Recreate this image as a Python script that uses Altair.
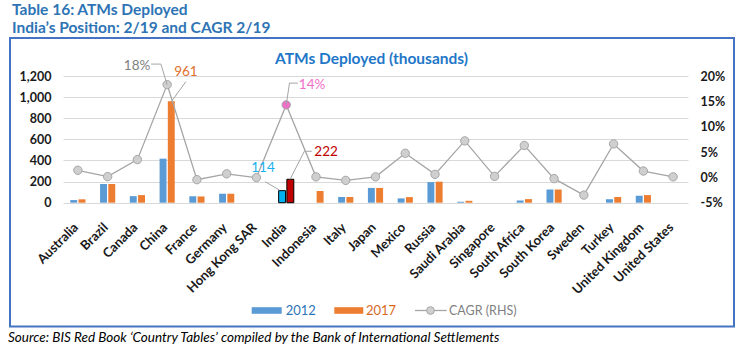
import altair as alt
import pandas as pd

# ---------------- data ----------------
countries = ["Australia", "Brazil", "Canada", "China", "France", "Germany",
             "Hong Kong SAR", "India", "Indonesia", "Italy", "Japan", "Mexico",
             "Russia", "Saudi Arabia", "Singapore", "South Africa", "South Korea",
             "Sweden", "Turkey", "United Kingdom", "United States"]
atm_2012 = [25, 177, 62, 417, 62, 85, None, 114, None, 54, 140, 41,
            195, 9, None, 21, 125, None, 33, 66, None]
atm_2017 = [32, 177, 72, 961, 59, 85, None, 222, 111, 54, 140, 53,
            199, 18, None, 34, 125, None, 54, 72, None]
cagr_pct = [1.4, 0.15, 3.5, 18.3, -0.45, 0.7, -0.05, 14.3, 0.1, -0.6, 0.1, 4.75,
            0.6, 7.2, 0.2, 6.3, -0.25, -3.5, 6.6, 1.25, 0.1]
years = ["2012", "2017"]
left_ticks = [0, 200, 400, 600, 800, 1000, 1200]
right_ticks = [-5, 0, 5, 10, 15, 20]

# annotation callouts (label text, label position in category-index / axis units)
pct_labels = ["18%", "14%"]
pct_label_x = [1.99, 7.87]
pct_label_y = [22.0, 18.3]
k_labels = ["961", "114", "222"]
k_label_x = [3.63, 6.22, 8.34]
k_label_y = [1242, 326, 483]
# leader lines: (segment id, x, y)
pct_leader_seg = [0, 0, 0, 1, 1, 1]
pct_leader_x = [2.46, 2.79, 3.0, 7.0, 7.11, 7.39]
pct_leader_y = [22.35, 22.35, 18.3, 14.3, 18.6, 18.6]
k_leader_seg = [0, 0, 1, 1, 2, 2, 2]
k_leader_x = [3.63, 3.15, 6.29, 6.77, 7.13, 7.61, 7.86]
k_leader_y = [1147, 961, 199, 120, 222, 487, 487]

FONT = "Lato"
BLUE_TITLE = "#2E74B5"

rows = []
for c, a, b in zip(countries, atm_2012, atm_2017):
    for yr, v in zip(years, [a, b]):
        if v is not None:
            rows.append({"country": c, "year": yr, "value": v})
bar_df = pd.DataFrame(rows)
line_df = pd.DataFrame({"country": countries, "idx": list(range(len(countries))), "cagr": cagr_pct})
dummy = pd.DataFrame({"a": [0]})

W, H = 625, 126.7
xq = alt.Scale(domain=[-0.5, len(countries) - 0.5], nice=False, zero=False)
ypct = alt.Scale(domain=[-5, 20], nice=False, zero=False)
yk = alt.Scale(domain=[0, 1200], nice=False, zero=False)

bars = alt.Chart(bar_df).transform_calculate(
    key="datum.country == 'India' ? 'India ' + datum.year : datum.year"
).mark_bar(stroke="#000000").encode(
    x=alt.X("country:N", sort=countries,
            scale=alt.Scale(domain=countries, paddingInner=0.49, paddingOuter=0.245),
            axis=alt.Axis(title=None, labelAngle=-45, labelAlign="right", labelBaseline="top",
                          domain=False, ticks=False, labelOffset=-6,
                          labelFont=FONT, labelFontWeight="bold", labelFontSize=13,
                          labelColor="#1a1a1a", labelPadding=18)),
    xOffset=alt.XOffset("year:N", scale=alt.Scale(domain=years, paddingInner=0.16)),
    y=alt.Y("value:Q", scale=yk,
            axis=alt.Axis(title=None, values=left_ticks, format=",.0f", grid=True,
                          gridColor="#D9D9D9", gridWidth=1, domain=False, ticks=False,
                          labelPadding=12, labelFont=FONT, labelFontWeight="bold",
                          labelFontSize=12.5, labelColor="#1a1a1a")),
    color=alt.Color("key:N", legend=None,
                    scale=alt.Scale(domain=["2012", "2017", "India 2012", "India 2017"],
                                    range=["#5B9BD5", "#ED7D31", "#00B0F0", "#C00000"])),
    strokeWidth=alt.condition("datum.country == 'India'", alt.value(1), alt.value(0)),
)

line = alt.Chart(line_df).mark_line(color="#A5A5A5", strokeWidth=1.3).encode(
    x=alt.X("idx:Q", scale=xq, axis=None),
    y=alt.Y("cagr:Q", scale=ypct,
            axis=alt.Axis(orient="right", title=None, values=right_ticks,
                          labelExpr="datum.value + '%'", grid=False, domain=False,
                          ticks=False, labelPadding=12, labelFont=FONT,
                          labelFontWeight="bold", labelFontSize=12.5, labelColor="#1a1a1a")),
)

points = alt.Chart(line_df).mark_circle(size=70, opacity=1, stroke="#A6A6A6", strokeWidth=1).encode(
    x=alt.X("idx:Q", scale=xq, axis=None),
    y=alt.Y("cagr:Q", scale=ypct, axis=None),
    color=alt.condition("datum.country == 'India'", alt.value("#EF6FC8"), alt.value("#CFCFCF")),
)

pct_leader_df = pd.DataFrame({"seg": pct_leader_seg, "x": pct_leader_x, "y": pct_leader_y,
                              "o": list(range(len(pct_leader_x)))})
k_leader_df = pd.DataFrame({"seg": k_leader_seg, "x": k_leader_x, "y": k_leader_y,
                            "o": list(range(len(k_leader_x)))})

pct_leaders = alt.Chart(pct_leader_df).mark_line(color="#A5A5A5", strokeWidth=1).encode(
    x=alt.X("x:Q", scale=xq, axis=None),
    y=alt.Y("y:Q", scale=ypct, axis=None),
    detail="seg:N", order="o:Q")
k_leaders = alt.Chart(k_leader_df).mark_line(color="#A5A5A5", strokeWidth=1).encode(
    x=alt.X("x:Q", scale=xq, axis=None),
    y=alt.Y("y:Q", scale=yk, axis=None),
    detail="seg:N", order="o:Q")

pct_lab_df = pd.DataFrame({"t": pct_labels, "x": pct_label_x, "y": pct_label_y})
k_lab_df = pd.DataFrame({"t": k_labels, "x": k_label_x, "y": k_label_y})

pct_text = alt.Chart(pct_lab_df).mark_text(font=FONT, fontSize=13.5, baseline="middle").encode(
    x=alt.X("x:Q", scale=xq, axis=None),
    y=alt.Y("y:Q", scale=ypct, axis=None),
    text="t:N",
    color=alt.Color("t:N", legend=None,
                    scale=alt.Scale(domain=pct_labels, range=["#7F7F7F", "#EF6FC8"])))
k_text = alt.Chart(k_lab_df).mark_text(font=FONT, fontSize=13.5, baseline="middle").encode(
    x=alt.X("x:Q", scale=xq, axis=None),
    y=alt.Y("y:Q", scale=yk, axis=None),
    text="t:N",
    color=alt.Color("t:N", legend=None,
                    scale=alt.Scale(domain=k_labels, range=["#E0702A", "#1CB0F0", "#C00000"])))

# ---------------- decorations (titles, frame, legend, source) ----------------
def txt(s, x, y, baseline="alphabetic", **kw):
    return alt.Chart(dummy).mark_text(font=FONT, align="left", baseline=baseline, **kw).encode(
        x=alt.value(x), y=alt.value(y), text=alt.value(s))

frame = alt.Chart(dummy).mark_rect(fillOpacity=0, stroke="#4472C4", strokeWidth=2).encode(
    x=alt.value(-53), x2=alt.value(671), y=alt.value(-38), y2=alt.value(250.5))

title1 = txt("Table 16: ATMs Deployed", -51, -61, fontSize=15.5, fontWeight="bold", color=BLUE_TITLE)
title2 = txt("India\u2019s Position: 2/19 and CAGR 2/19", -51, -43, fontSize=15.5, fontWeight="bold", color=BLUE_TITLE)
ctitle = alt.Chart(dummy).mark_text(font=FONT, fontSize=15.5, fontWeight="bold", color="#1F77C8",
                                    align="center", baseline="middle").encode(
    x=alt.value(308.5), y=alt.value(-17), text=alt.value("ATMs Deployed (thousands)"))

leg_y = 234.5
leg_b = alt.Chart(dummy).mark_rect(color="#5B9BD5").encode(
    x=alt.value(188.7), x2=alt.value(218.7), y=alt.value(leg_y - 3.3), y2=alt.value(leg_y + 3.3))
leg_o = alt.Chart(dummy).mark_rect(color="#ED7D31").encode(
    x=alt.value(271.3), x2=alt.value(300.3), y=alt.value(leg_y - 3.3), y2=alt.value(leg_y + 3.3))
leg_l = alt.Chart(dummy).mark_rule(color="#A5A5A5", strokeWidth=1.3).encode(
    x=alt.value(352), x2=alt.value(383.7), y=alt.value(leg_y))
leg_p = alt.Chart(dummy).mark_circle(size=60, opacity=1, color="#CFCFCF", stroke="#A6A6A6", strokeWidth=1).encode(
    x=alt.value(367.5), y=alt.value(leg_y))
leg_t1 = txt("2012", 222.7, leg_y, baseline="middle", fontSize=13, color="#2E75B6")
leg_t2 = txt("2017", 303, leg_y, baseline="middle", fontSize=13, color="#D8691F")
leg_t3 = txt("CAGR (RHS)", 386, leg_y, baseline="middle", fontSize=12.5, color="#7F7F7F")

source = txt("Source: BIS Red Book \u2018Country Tables\u2019 compiled by the Bank of International Settlements",
             -55, 261.5, baseline="middle", fontSize=13.5, fontStyle="italic", color="#000000")

chart = alt.layer(
    bars, line, points, pct_leaders, k_leaders, pct_text, k_text,
    frame, title1, title2, ctitle, leg_b, leg_o, leg_l, leg_p, leg_t1, leg_t2, leg_t3, source
).resolve_scale(
    x="independent", y="independent", color="independent"
).properties(
    width=W, height=H,
    autosize=alt.AutoSizeParams(type="none"),
    padding={"left": 63, "top": 76, "right": 53, "bottom": 149.3},
    background="white",
).configure_view(stroke=None)

chart.save("out.html", embed_options={"renderer": "svg", "actions": False})
